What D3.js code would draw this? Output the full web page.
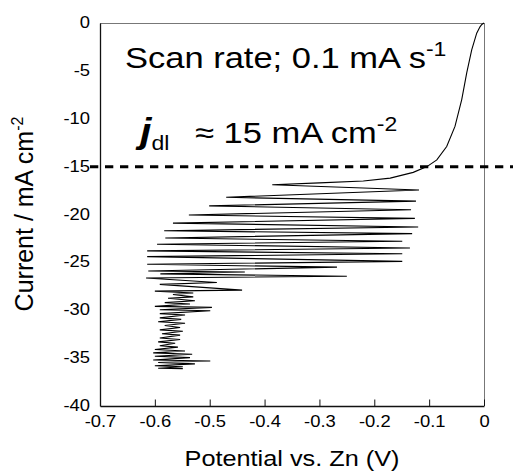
<!DOCTYPE html>
<html><head><meta charset="utf-8">
<script src="https://cdn.jsdelivr.net/npm/d3@7"></script>
<style>
body{margin:0;background:#fff}
svg{display:block}
text{font-family:"Liberation Sans",Arial,sans-serif;fill:#000}
</style>
</head><body>
<svg id="c" width="513" height="474"></svg>
<script>
// ---- data ----
const xTicks = [-0.7,-0.6,-0.5,-0.4,-0.3,-0.2,-0.1,0];
const xTickLabels = ["-0.7","-0.6","-0.5","-0.4","-0.3","-0.2","-0.1","0"];
const yTicks = [0,-5,-10,-15,-20,-25,-30,-35,-40];
const yTickLabels = ["0","-5","-10","-15","-20","-25","-30","-35","-40"];
const dlCurrent = -15;
// potential (V vs Zn) and current (mA cm-2) of the scan, in order
const potential = [0,-0.004,-0.0073,-0.0133,-0.0224,-0.0315,-0.0406,-0.0529,-0.068,-0.086,-0.104,-0.129,-0.171,-0.22,-0.30,-0.386,
 -0.1185,-0.470,-0.124,-0.501,-0.133,-0.538,-0.126,-0.567,-0.120,-0.583,-0.131,-0.581,-0.149,-0.596,-0.135,-0.614,-0.149,-0.614,-0.149,-0.614,
 -0.268,-0.612,-0.436,-0.590,-0.250,-0.616,-0.487,-0.591,-0.441,-0.600,-0.530,-0.567,-0.530,-0.576,-0.527,-0.582,-0.536,-0.600,-0.496,-0.591,
 -0.499,-0.591,-0.545,-0.591,-0.552,-0.594,-0.545,-0.582,-0.554,-0.591,-0.549,-0.587,-0.554,-0.591,-0.554,-0.594,-0.563,-0.591,-0.558,-0.600,
 -0.545,-0.603,-0.532,-0.600,-0.536,-0.603,-0.499,-0.594,-0.527,-0.600,-0.549,-0.594,-0.549];
const current = [0,-0.15,-0.4,-1.06,-2.8,-5.2,-8.0,-10.8,-12.9,-14.3,-15.0,-15.6,-16.2,-16.5,-16.7,-16.9,
 -17.44,-18.2,-18.6,-19.1,-19.5,-20.05,-20.4,-20.9,-21.3,-21.7,-22.0,-22.45,-22.8,-23.1,-23.5,-23.8,-24.1,-24.4,-24.9,-25.2,
 -25.5,-25.9,-26.0,-26.2,-26.45,-26.63,-27.1,-27.3,-27.9,-28.0,-28.2,-28.35,-28.6,-28.75,-29.0,-29.2,-29.35,-29.6,-29.7,-29.95,
 -30.05,-30.35,-30.5,-30.8,-30.95,-31.2,-31.35,-31.6,-31.8,-32.05,-32.2,-32.45,-32.6,-32.9,-33.05,-33.3,-33.45,-33.7,-33.85,-34.1,
 -34.25,-34.45,-34.6,-34.8,-34.95,-35.2,-35.3,-35.45,-35.6,-35.8,-35.9,-36.05,-36.1];

// ---- layout ----
const svg = d3.select("#c");
const L = 100, R = 484, T = 23, B = 406;
const SX = 1.15; // horizontal text stretch
const x = d3.scaleLinear().domain([-0.7, 0]).range([L, R]);
const y = d3.scaleLinear().domain([-40, 0]).range([B, T]);

// frame
svg.append("line").attr("x1",L).attr("x2",R).attr("y1",T+0.5).attr("y2",T+0.5).attr("stroke","#777").attr("stroke-width",1);
svg.append("line").attr("x1",R+0.5).attr("x2",R+0.5).attr("y1",T).attr("y2",B).attr("stroke","#777").attr("stroke-width",1);

// x axis (inward ticks)
const xAxis = d3.axisBottom(x).tickValues(xTicks).tickSize(0).tickFormat("");
const gx = svg.append("g").attr("transform",`translate(0,${B})`).call(xAxis);
gx.select(".domain").attr("stroke","#111").attr("stroke-width",1.3);
gx.selectAll(".tick").append("line").attr("y1",0).attr("y2",-6.5).attr("stroke","#111").attr("stroke-width",1);
gx.selectAll(".tick").append("text")
  .attr("transform",`translate(0,21) scale(${SX},1)`)
  .attr("text-anchor","middle").attr("font-size",16)
  .text((d,i)=>xTickLabels[i]);

// y axis (no tick marks)
const yAxis = d3.axisLeft(y).tickValues(yTicks).tickSize(0).tickFormat("");
const gy = svg.append("g").attr("transform",`translate(${L},0)`).call(yAxis);
gy.select(".domain").attr("stroke","#111").attr("stroke-width",1.3);
gy.selectAll(".tick").append("text")
  .attr("transform",`translate(-10,4.5) scale(${SX},1)`)
  .attr("text-anchor","end").attr("font-size",16)
  .text((d,i)=>yTickLabels[i]);

// curve
const pts = potential.map((v,i)=>[v,current[i]]);
svg.append("path").datum(pts)
  .attr("d", d3.line().x(d=>x(d[0])).y(d=>y(d[1])))
  .attr("fill","none").attr("stroke","#000").attr("stroke-width",1.1).attr("stroke-linejoin","miter");

// dashed j_dl line
svg.append("line").attr("x1",90).attr("x2",513).attr("y1",y(dlCurrent)).attr("y2",y(dlCurrent))
  .attr("stroke","#000").attr("stroke-width",3).attr("stroke-dasharray","8.3,6.7");

// annotations
const t1 = svg.append("text").attr("transform",`translate(125,68) scale(${SX},1)`).attr("font-size",30);
t1.append("tspan").text("Scan rate; 0.1 mA s");
t1.append("tspan").attr("font-size",20).attr("dy",-12).text("-1");

const t2 = svg.append("text").attr("transform",`translate(140,143) scale(${SX},1)`).attr("font-size",30);
t2.append("tspan").attr("font-size",36).attr("font-weight","bold").attr("font-style","italic").text("j");
t2.append("tspan").attr("font-size",20).attr("dy",7).text("dl");
t2.append("tspan").attr("x",(195-140)/SX).attr("dy",-7).text("\u2248 15 mA cm");
t2.append("tspan").attr("font-size",20).attr("dy",-12).text("-2");

// axis titles
svg.append("text").attr("transform",`translate(292,466) scale(${SX},1)`).attr("text-anchor","middle")
  .attr("font-size",22).text("Potential vs. Zn (V)");
const yl = svg.append("text").attr("transform","translate(33,214) rotate(-90)").attr("text-anchor","middle").attr("font-size",25);
yl.append("tspan").text("Current / mA cm");
yl.append("tspan").attr("font-size",16).attr("dy",-10).text("-2");
</script>
</body></html>
